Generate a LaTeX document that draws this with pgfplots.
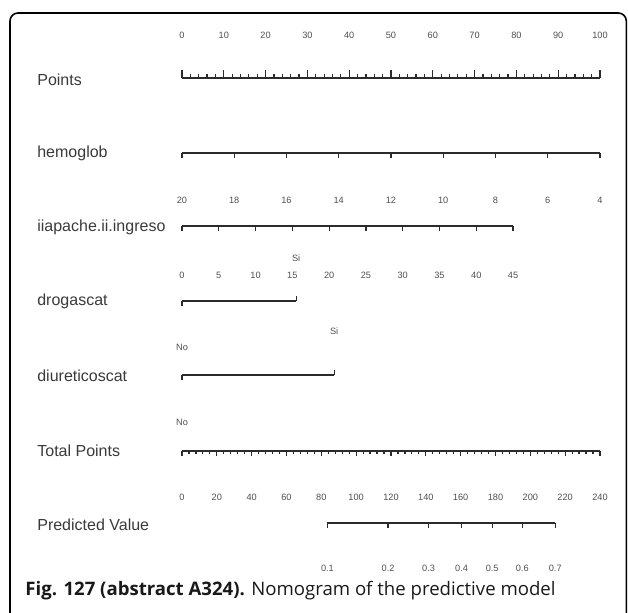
\documentclass[border=0pt]{standalone}
\usepackage{fontspec}
\setmainfont{Liberation Sans}
\newfontfamily\capfont{Open Sans}
\usepackage{pgfplots}
\usepackage{pgfplotstable}
\pgfplotsset{compat=1.18}

\definecolor{linec}{HTML}{2B2B2B}
\definecolor{labc}{HTML}{3A3A3A}
\definecolor{tickc}{HTML}{505050}

% tick positions: v = scale value, e = tick length (px)
\pgfplotstableread{
v e
0 8
2 4
4 4
6 4
8 4
10 8
12 4
14 4
16 4
18 4
20 8
22 4
24 4
26 4
28 4
30 8
32 4
34 4
36 4
38 4
40 8
42 4
44 4
46 4
48 4
50 8
52 4
54 4
56 4
58 4
60 8
62 4
64 4
66 4
68 4
70 8
72 4
74 4
76 4
78 4
80 8
82 4
84 4
86 4
88 4
90 8
92 4
94 4
96 4
98 4
100 8
}\pointsticks

\pgfplotstableread{
v lab
0 0
10 10
20 20
30 30
40 40
50 50
60 60
70 70
80 80
90 90
100 100
}\pointslabs

\pgfplotstableread{
v lab
20 20
18 18
16 16
14 14
12 12
10 10
8 8
6 6
4 4
}\hemo

\pgfplotstableread{
v lab
0 0
5 5
10 10
15 15
20 20
25 25
30 30
35 35
40 40
45 45
}\apache

\pgfplotstableread{
v e
0 5
4 3
8 3
12 3
16 3
20 5
24 3
28 3
32 3
36 3
40 5
44 3
48 3
52 3
56 3
60 5
64 3
68 3
72 3
76 3
80 5
84 3
88 3
92 3
96 3
100 5
104 3
108 3
112 3
116 3
120 5
124 3
128 3
132 3
136 3
140 5
144 3
148 3
152 3
156 3
160 5
164 3
168 3
172 3
176 3
180 5
184 3
188 3
192 3
196 3
200 5
204 3
208 3
212 3
216 3
220 5
224 3
228 3
232 3
236 3
240 5
}\totalticks

\pgfplotstableread{
v lab
0 0
20 20
40 40
60 60
80 80
100 100
120 120
140 140
160 160
180 180
200 200
220 220
240 240
}\totallabs

% predicted probability and its position on the Points scale
\pgfplotstableread{
p lab
34.8 0.1
49.3 0.2
59.0 0.3
66.9 0.4
74.2 0.5
81.4 0.6
89.3 0.7
}\pred

\pgfplotsset{
  scaleline/.style={linec, line width=0.9pt},
  tdown/.style={draw=none, error bars/.cd, y dir=plus, y explicit, error mark=none,
    error bar style={draw=linec, line width=0.6pt}},
  tup/.style={draw=none, error bars/.cd, y dir=minus, y explicit, error mark=none,
    error bar style={draw=linec, line width=0.6pt}},
  tlabs/.style={draw=none, nodes near coords, point meta=explicit symbolic,
    nodes near coords style={anchor=center, inner sep=0pt, text=tickc,
      font=\fontsize{4.6}{5}\selectfont}},
}

\begin{document}
\begin{tikzpicture}
\begin{axis}[
    scale only axis,
    width=314pt, height=306.5pt,
    xmin=-43.54, xmax=106.70,
    ymin=0, ymax=613, y dir=reverse,
    hide axis, clip=false,
]
% frame
\draw[line width=0.8pt, rounded corners=4pt]
  (axis cs:-41.15,640) -- (axis cs:-41.15,13) -- (axis cs:106.3,13) -- (axis cs:106.3,640);

% Points
\addplot[scaleline] coordinates {(0,78) (100,78)};
\addplot[tup] table[x=v, y expr=78, y error=e] {\pointsticks};
\addplot[tlabs] table[x=v, y expr=35, meta=lab] {\pointslabs};

% hemoglob
\addplot[scaleline] coordinates {(0,153) (100,153)};
\addplot[tdown] table[x expr=(20-\thisrow{v})*6.25, y expr=153, y error expr=5] {\hemo};
\addplot[tlabs] table[x expr=(20-\thisrow{v})*6.25, y expr=200, meta=lab] {\hemo};

% iiapache.ii.ingreso
\addplot[scaleline] coordinates {(0,226) (79.2,226)};
\addplot[tdown] table[x expr=\thisrow{v}*1.76, y expr=226, y error expr=5] {\apache};
\addplot[tlabs] table[x expr=\thisrow{v}*1.76, y expr=275, meta=lab] {\apache};

% drogascat
\addplot[scaleline] coordinates {(0,301) (27.3,301)};
\addplot[tdown] coordinates {(0,301) +- (0,5)};
\addplot[tup] coordinates {(27.3,301) +- (0,5)};
\addplot[tlabs] table[meta=lab] {
x y lab
0 347 No
27.3 258 Si
};

% diureticoscat
\addplot[scaleline] coordinates {(0,375) (36.4,375)};
\addplot[tdown] coordinates {(0,375) +- (0,5)};
\addplot[tup] coordinates {(36.4,375) +- (0,5)};
\addplot[tlabs] table[meta=lab] {
x y lab
0 422 No
36.4 331 Si
};

% Total Points
\addplot[scaleline] coordinates {(0,451) (100,451)};
\addplot[tdown] table[x expr=\thisrow{v}/2.4, y expr=451, y error=e] {\totalticks};
\addplot[tlabs] table[x expr=\thisrow{v}/2.4, y expr=497, meta=lab] {\totallabs};

% Predicted Value
\addplot[scaleline] coordinates {(34.8,523) (89.3,523)};
\addplot[tdown] table[x=p, y expr=523, y error expr=5] {\pred};
\addplot[tlabs] table[x=p, y expr=568, meta=lab] {\pred};

% row labels
\begin{scope}[every node/.style={anchor=west, inner sep=0pt, text=labc, font=\fontsize{8}{9}\selectfont}]
\node at (axis cs:-34.7,80) {Points};
\node at (axis cs:-34.7,153) {hemoglob};
\node at (axis cs:-34.7,227) {iiapache.ii.ingreso};
\node at (axis cs:-34.7,301) {drogascat};
\node at (axis cs:-34.7,376) {diureticoscat};
\node at (axis cs:-34.7,451) {Total Points};
\node at (axis cs:-34.7,525) {Predicted Value};
\end{scope}

% caption
\node[anchor=base west, inner sep=0pt, font=\capfont\fontsize{9.3}{10}\selectfont, text=black!90]
  at (axis cs:-37.56,596) {\textbf{Fig. 127 (abstract A324).} Nomogram of the predictive model};
\end{axis}
\pgfresetboundingbox
\useasboundingbox (current axis.south west) rectangle (current axis.north east);
\end{tikzpicture}
\end{document}
